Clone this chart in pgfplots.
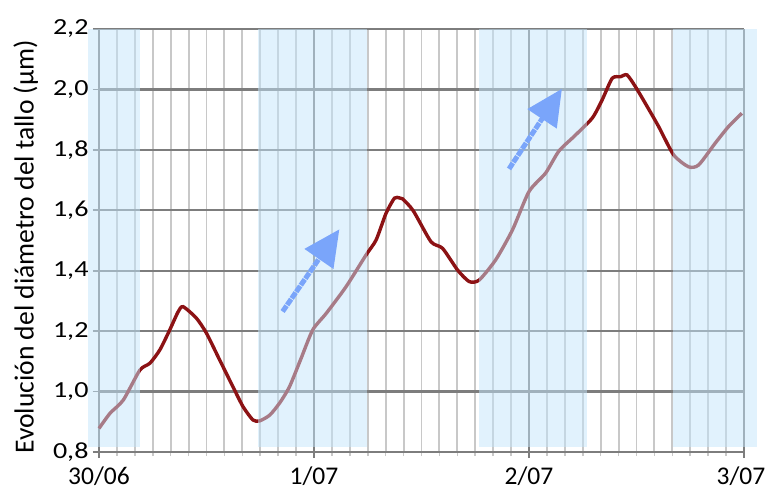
\documentclass[border=0pt]{standalone}
\usepackage{fontspec}
\setmainfont{Carlito}
\newfontfamily\ytickfont[FakeStretch=1.22]{Carlito}
\usepackage{pgfplots}
\pgfplotsset{compat=1.18}
\usetikzlibrary{arrows.meta}

\definecolor{stem}{RGB}{140,18,20}
\definecolor{night}{RGB}{195,229,251}
\definecolor{arrowblue}{RGB}{122,165,250}
\definecolor{gridmajor}{RGB}{125,125,125}
\definecolor{gridminor}{RGB}{200,200,200}

\begin{document}
\begin{tikzpicture}
\path[use as bounding box] (-99pt,-41pt) rectangle (668pt,452pt);
\begin{axis}[
  scale only axis,
  width=645pt, height=423pt,
  at={(0pt,0pt)}, anchor=south west,
  xmin=0, xmax=3, ymin=0.8, ymax=2.2,
  clip=false,
  axis x line*=bottom, axis y line*=left,
  axis line style={draw=gridmajor, line width=2.4pt, -},
  xtick={0,1,2,3},
  xticklabels={30/06,1/07,2/07,\hspace*{-6pt}3/07},
  minor x tick num=11,
  ytick={0.8,1.0,1.2,1.4,1.6,1.8,2.0,2.2},
  tick align=outside,
  major tick length=6pt, minor tick length=4pt,
  major tick style={draw=gridmajor, line width=1.8pt},
  minor tick style={draw=gridminor, line width=1.6pt},
  grid=both,
  major grid style={draw=gridmajor, line width=2.2pt},
  minor grid style={draw=gridminor, line width=1.9pt},
  y tick label style={font=\ytickfont\fontsize{23}{23}\selectfont, xshift=-1pt},
  x tick label style={font=\fontsize{25.5}{25.5}\selectfont, yshift=-5pt},
  /pgf/number format/.cd, use comma, fixed, fixed zerofill, precision=1,
  assume math mode=true,
  /pgfplots/.cd,
  ylabel={Evolución del diámetro del tallo (µm)},
  ylabel style={font=\fontsize{27.6}{30}\selectfont,
    at={(axis description cs:-0.138,0.485)}, anchor=north, rotate=0},
]

% stem diameter record
\addplot[stem, line width=3.4pt, smooth, tension=0.4] coordinates {
(0.000,0.878) (0.051,0.928) (0.113,0.972) (0.190,1.071) (0.237,1.094)
(0.283,1.138) (0.329,1.204) (0.368,1.264) (0.391,1.281) (0.453,1.243)
(0.500,1.193) (0.561,1.105) (0.623,1.016) (0.670,0.950) (0.716,0.906)
(0.747,0.903) (0.794,0.922) (0.840,0.962) (0.886,1.016) (0.940,1.110)
(0.994,1.204) (1.057,1.259) (1.149,1.347) (1.242,1.452) (1.289,1.502)
(1.335,1.590) (1.374,1.640) (1.397,1.641) (1.412,1.638) (1.462,1.598)
(1.544,1.496) (1.598,1.474) (1.668,1.402) (1.722,1.364) (1.768,1.369)
(1.845,1.436) (1.923,1.535) (2.000,1.662) (2.077,1.723) (2.139,1.796)
(2.209,1.844) (2.294,1.905) (2.340,1.965) (2.387,2.037) (2.425,2.042)
(2.456,2.048) (2.495,2.009) (2.541,1.954) (2.603,1.877) (2.673,1.783)
(2.742,1.744) (2.789,1.750) (2.866,1.822) (2.928,1.877) (2.990,1.921)
};

% night periods
\addplot[fill=night, draw=none, opacity=0.5] coordinates
  {(-0.051,0.817) (0.190,0.817) (0.190,2.2) (-0.051,2.2)} -- cycle;
\addplot[fill=night, draw=none, opacity=0.5] coordinates
  {(0.738,0.817) (1.248,0.817) (1.248,2.2) (0.738,2.2)} -- cycle;
\addplot[fill=night, draw=none, opacity=0.5] coordinates
  {(1.768,0.817) (2.269,0.817) (2.269,2.2) (1.768,2.2)} -- cycle;
\addplot[fill=night, draw=none, opacity=0.5] coordinates
  {(2.668,0.817) (3.060,0.817) (3.060,2.2) (2.668,2.2)} -- cycle;

% night-time growth arrows
\addplot[arrowblue, line width=5pt, dash pattern=on 7pt off 1pt,
  -{Triangle[length=36pt,width=34pt]}] coordinates {(0.854,1.265) (1.118,1.537)};
\addplot[arrowblue, line width=5pt, dash pattern=on 7pt off 1pt,
  -{Triangle[length=36pt,width=34pt]}] coordinates {(1.907,1.737) (2.153,2.002)};
\end{axis}
\end{tikzpicture}
\end{document}
